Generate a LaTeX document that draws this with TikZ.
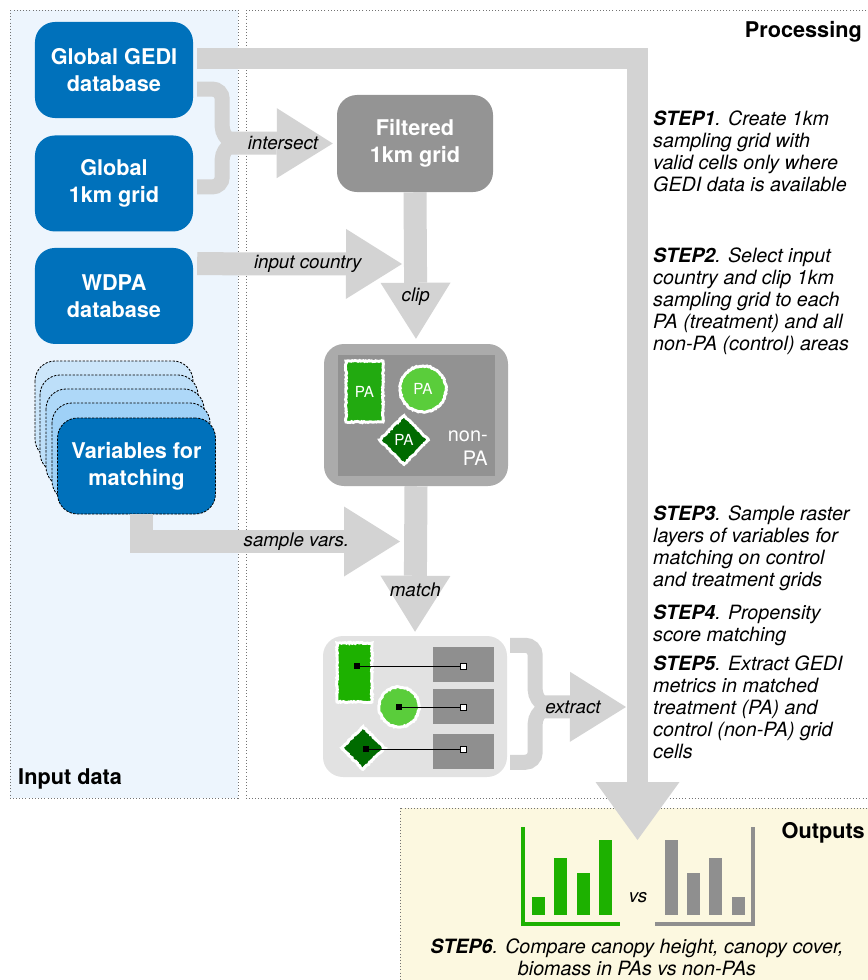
\documentclass[tikz,border=0pt]{standalone}
\usepackage{fontspec}
\setmainfont{TeX Gyre Heros}
\usetikzlibrary{arrows.meta,positioning,calc,shapes.geometric,decorations.pathmorphing}
\definecolor{gediblue}{HTML}{0071BB}
\definecolor{stackblue}{HTML}{6CB8F2}
\definecolor{panelblue}{HTML}{EDF5FD}
\definecolor{panelyellow}{HTML}{FCF8E0}
\definecolor{arrowgray}{HTML}{D3D3D3}
\definecolor{filtgray}{HTML}{949494}
\definecolor{mapouter}{HTML}{ABABAB}
\definecolor{mapinner}{HTML}{929292}
\definecolor{matchbg}{HTML}{E2E2E2}
\definecolor{cellgray}{HTML}{8F8F8F}
\definecolor{pagreen}{HTML}{22AA10}
\definecolor{palight}{HTML}{5ACD3B}
\definecolor{padark}{HTML}{006B00}
\definecolor{chartgreen}{HTML}{1DB100}
\newcommand{\boxfont}{\fontsize{18.5}{23}\selectfont\bfseries}
\newcommand{\stepfont}{\fontsize{16.8}{18.6}\selectfont\itshape}
\newcommand{\arwfont}{\fontsize{16}{19}\selectfont\itshape}

\begin{document}
\begin{tikzpicture}[
  x=0.03cm, y=-0.03cm,
  %% input boxes: blue, rounded
  inbox/.style={fill=gediblue,rounded corners=0.6cm,minimum width=4.74cm,minimum height=2.88cm,
                align=center,text=white,font=\boxfont},
  %% stacked layer outline
  stackbox/.style={draw=black,dash pattern=on 2pt off 1.2pt,line width=0.7pt,rounded corners=0.6cm},
  %% processing box
  procbox/.style={fill=filtgray,rounded corners=0.6cm,minimum width=4.68cm,minimum height=2.91cm,
                  align=center,text=white,font=\boxfont},
  panel/.style={draw=black!55,dotted,line width=0.7pt},
  %% wide grey block arrows
  blockarrow/.style={draw=arrowgray,line width=0.69cm,
    -{Triangle[length=1.68cm,width=2.1cm,line width=0pt]}},
  bigarrow/.style={draw=arrowgray,line width=0.63cm,
    -{Triangle[length=1.74cm,width=2.52cm,line width=0pt]}},
  brace/.style={draw=arrowgray,line width=0.45cm,rounded corners=0.3cm},
  arwlabel/.style={font=\arwfont,inner sep=1pt},
  steptext/.style={font=\stepfont,align=left,anchor=north west,inner sep=0pt},
  %% PA patches with fuzzy white edge
  patch/.style={draw=white,line width=2.5pt,text=white,font=\fontsize{13}{15}\selectfont,inner sep=0pt,
                decorate,decoration={random steps,segment length=1.2pt,amplitude=0.5pt}},
  cell/.style={fill=cellgray,minimum width=1.83cm,minimum height=1.05cm,inner sep=0pt},
  blksq/.style={fill=black,minimum size=0.18cm,inner sep=0pt},
  whtsq/.style={draw=black,fill=white,line width=0.5pt,minimum size=0.18cm,inner sep=0pt},
  paneltitle/.style={font=\fontsize{18.5}{22}\selectfont\bfseries,inner sep=0pt}
]
\useasboundingbox (0,0) rectangle (867,980);

%% ---- PANELS ----
\draw[panel,fill=panelblue] (10,10) rectangle (238,798);
\draw[panel] (246,10) rectangle (880,798);
\draw[panel,fill=panelyellow] (400,808) rectangle (880,995);
\node[paneltitle,anchor=base west] (intitle) at (18,784) {Input data};
\node[paneltitle,anchor=base east] (proctitle) at (862,37) {Processing};
\node[paneltitle,anchor=base east] (outtitle) at (865,838) {Outputs};

%% ---- INPUT DATA ----
\node[inbox] (gedi) at (114,70) {Global GEDI\\database};
\node[inbox,below=0.51cm of gedi] (grid) {Global\\1km grid};
\node[inbox,below=0.48cm of grid] (wdpa) {WDPA\\database};
\foreach \dx/\dy/\shade in {0/0/35,5/14/45,11/28/55,17/42/65}
  \draw[stackbox,fill=stackblue!\shade!white] (35+\dx,361+\dy) rectangle ++(158,98);
\node[inbox,stackbox] (vars) at (136.5,466) {Variables for\\matching};

%% ---- BIG ARROW TO OUTPUTS ----
\coordinate (outtip) at (637.5,840);
\draw[bigarrow] ($(gedi.east)+(4,-11.5)$) -| (outtip);

%% ---- PROCESSING ----
\node[procbox] (filt) at (415,143.5) {Filtered\\1km grid};

\node[fill=mapouter,rounded corners=0.6cm,minimum width=5.52cm,minimum height=4.26cm] (pamap) at (416,415) {};
\node[fill=mapinner,minimum width=4.71cm,minimum height=3.63cm] (mapin) at (pamap.center) {};
\node[patch,fill=pagreen,rectangle,minimum width=1.11cm,minimum height=1.83cm] (pa1) at (364.5,391.5) {PA};
\node[patch,fill=palight,circle,minimum size=1.38cm] (pa2) at (423,389) {PA};
\node[patch,fill=padark,diamond,minimum size=1.5cm] (pa3) at (404,440) {PA};
\node[text=white,font=\fontsize{17}{20}\selectfont,align=right,anchor=east,inner sep=0pt] (nonpa) at (488,448) {non-\\PA};

\node[fill=matchbg,rounded corners=0.6cm,minimum width=5.52cm,minimum height=4.23cm] (matchbox) at (415,706.5) {};
\node[patch,fill=chartgreen,rectangle,minimum width=1.05cm,minimum height=1.77cm] (mp1) at (354.5,672.5) {};
\node[patch,fill=palight,circle,minimum size=1.2cm] (mp2) at (399,707) {};
\node[patch,fill=padark,diamond,minimum size=1.32cm] (mp3) at (363,748) {};
\node[cell] (c1) at (463.5,664.5) {};
\node[cell] (c2) at (463.5,706.5) {};
\node[cell] (c3) at (463.5,751) {};
\node[blksq] (b1) at (357,666) {};
\node[blksq] (b2) at (399,707) {};
\node[blksq] (b3) at (366,749) {};
\node[whtsq] (w1) at (463,666) {};
\node[whtsq] (w2) at (463,707) {};
\node[whtsq] (w3) at (463,749) {};
\foreach \i in {1,2,3}
  \draw[line width=0.7pt] (b\i) -- (w\i);

%% ---- ARROWS ----
\draw[brace] ($(gedi.east)+(4,19)$) -- ++(25,0) -- ++(0,48) -- ++(12,6) coordinate (isect)
  -- ++(-12,6) -- ++(0,38) -- ($(grid.east)+(4,3.5)$);
\draw[blockarrow,shorten >=0.12cm] ($(isect)+(-6,0)$) -- (filt.west);
\node[arwlabel] (isectlab) at (283,143) {intersect};

\coordinate (clipjoin) at (402,264);
\draw[blockarrow] ($(wdpa.north east)+(4,16)$) -- (clipjoin)
  node[arwlabel,pos=0.54] (countrylab) {input country};
\draw[blockarrow,shorten >=0.15cm] (filt.south) -- (pamap.north)
  node[arwlabel,pos=0.69] (cliplab) {clip};

\coordinate (samplejoin) at (400,541.5);
\draw[blockarrow] ($(vars.south)+(4.5,0)$) |- (samplejoin)
  node[arwlabel,pos=0.8] (samplelab) {sample vars.};
\draw[blockarrow,shorten >=0.12cm] (pamap.south) -- (matchbox.north)
  node[arwlabel,pos=0.69] (matchlab) {match};

\draw[brace] ($(matchbox.north east)+(3,9.5)$) -- ++(25,0) -- ++(0,55) -- ++(13,6.5) coordinate (xsect)
  -- ++(-13,6.5) -- ++(0,49) -- ++(-25,0);
\coordinate (xjoin) at (626,707);
\draw[blockarrow] ($(xsect)+(-6,0)$) -- (xjoin);
\node[arwlabel] (extractlab) at (573,707) {extract};

%% ---- STEPS ----
\node[steptext] (step1) at (653,111) {\textbf{STEP1}. Create 1km\\sampling grid with\\valid cells only where\\GEDI data is available};
\node[steptext] (step2) at (653,248) {\textbf{STEP2}. Select input\\country and clip 1km\\sampling grid to each\\PA (treatment) and all\\non-PA (control) areas};
\node[steptext] (step3) at (653,506) {\textbf{STEP3}. Sample raster\\layers of variables for\\matching on control\\and treatment grids};
\node[steptext] (step4) at (653,605) {\textbf{STEP4}. Propensity\\score matching};
\node[steptext] (step5) at (653,656) {\textbf{STEP5}. Extract GEDI\\metrics in matched\\treatment (PA) and\\control (non-PA) grid\\cells};

%% ---- OUTPUTS ----
\foreach \cx/\top in {538.5/897,560.5/858,583/873,605.5/840}
  \fill[chartgreen] (\cx-6.5,\top) rectangle (\cx+6.5,915);
\draw[chartgreen,line width=0.12cm] (523,827) |- (620,924);
\foreach \cx/\top in {671/840,693.5/873,715/858,738.5/897}
  \fill[cellgray] (\cx-6.5,\top) rectangle (\cx+6.5,915);
\draw[cellgray,line width=0.12cm] (753,827) |- (655,924);
\node[arwlabel] (vs) at (638,898) {vs};
\node[font=\stepfont,align=center,inner sep=0pt] (step6) at (637,957.5)
  {\textbf{STEP6}. Compare canopy height, canopy cover,\\biomass in PAs vs non-PAs};

\end{tikzpicture}
\end{document}
